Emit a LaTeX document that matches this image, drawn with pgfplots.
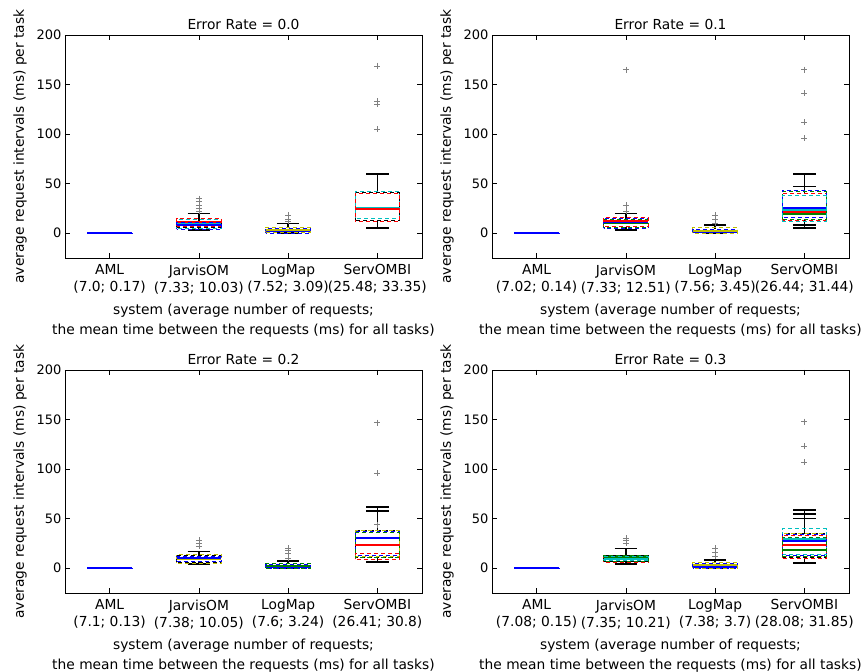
\documentclass[border=0pt]{standalone}
\usepackage{fontspec}
\setmainfont{DejaVu Sans}
\usepackage{pgfplots}
\pgfplotsset{compat=1.18}
\usepgfplotslibrary{statistics}
\definecolor{mb}{rgb}{0,0,1}
\definecolor{mg}{rgb}{0,0.5,0}
\definecolor{mr}{rgb}{1,0,0}
\definecolor{mc}{rgb}{0,0.75,0.75}
\definecolor{mm}{rgb}{0.75,0,0.75}
\definecolor{my}{rgb}{0.75,0.75,0}
\newcommand{\fsz}{\fontsize{13.8}{17}\selectfont}
\newcommand{\fszl}{\fontsize{13.8}{20}\selectfont}
\newcommand{\fszy}{\fontsize{13}{16}\selectfont}
% main box: color, pos, lw, lq, med, uq, uw
\newcommand{\mainbox}[7]{\addplot[#1, thick, dash pattern=on 4pt off 3pt, boxplot prepared={draw position=#2, lower whisker=#3, lower quartile=#4, median=#5, upper quartile=#6, upper whisker=#7, box extend=0.5, whisker extend=0.25, every whisker/.style={black,solid,line width=1.6pt}, every median/.style={#1,solid,line width=2pt}}] coordinates {};}
% coloured box without whiskers: color, pos, lq, med, uq
\newcommand{\colbox}[5]{\addplot[#1, thick, dash pattern=on 4pt off 3pt, dash phase=3pt, boxplot prepared={draw position=#2, lower whisker=#3, lower quartile=#3, median=#4, upper quartile=#5, upper whisker=#5, box extend=0.5, whisker extend=0.25, every whisker/.style={draw=none}, every median/.style={#1,solid,line width=2pt}}] coordinates {};}
\pgfplotsset{panel/.style={
  scale only axis, width=357pt, height=223pt, anchor=south west,
  xmin=0.5, xmax=4.5, ymin=-25, ymax=200,
  xtick={1,2,3,4}, ytick={0,50,100,150,200},
  tick align=inside, major tick length=5pt, tick style={black, thin},
  axis line style={black, line width=0.9pt},
  boxplot/draw direction=y,
  /pgf/number format/assume math mode=true,
  yticklabel style={font=\fszy},
  xticklabel style={font=\fsz, align=center, yshift=-3pt},
  ylabel style={font=\fsz, yshift=3pt},
  title style={font=\fsz, yshift=-4pt},
  xlabel style={font=\fszl, align=center, yshift=-3pt},
  ylabel={average request intervals (ms) per task},
  xlabel={system (average number of requests;\\ the mean time between the requests (ms) for all tasks)},
}}
\begin{document}
\begin{tikzpicture}
\path[use as bounding box] (0pt,0pt) rectangle (868pt,672pt);
% ---------- Error Rate 0.0
\begin{axis}[panel, at={(65pt,414pt)}, title={Error Rate = 0.0},
  xticklabels={{AML\\(7.0; 0.17)},{JarvisOM\\(7.33; 10.03)},{LogMap\\(7.52; 3.09)},{ServOMBI\\(25.48; 33.35)}}]
\colbox{my}{1}{0}{0.3}{0.6}
\mainbox{mb}{1}{0}{0}{0}{0.2}{0.5}
\mainbox{black}{2}{3}{6}{9}{12}{20}
\colbox{mc}{2}{5}{10}{14}
\colbox{mr}{2}{7}{11}{15}
\colbox{mb}{2}{4}{8}{11}
\addplot[only marks, mark=+, gray, mark size=3pt] coordinates {(2,22) (2,25) (2,28) (2,32) (2,35)};
\mainbox{mb}{3}{0}{0}{2}{5}{10}
\colbox{my}{3}{1}{3}{6}
\addplot[only marks, mark=+, gray, mark size=3pt] coordinates {(3,12) (3,14) (3,18)};
\mainbox{black}{4}{5}{13}{24}{41}{60}
\colbox{mc}{4}{15}{25}{42}
\colbox{mr}{4}{12}{24}{40}
\addplot[only marks, mark=+, gray, mark size=3pt] coordinates {(4,105) (4,130) (4,133) (4,169)};
\end{axis}
% ---------- Error Rate 0.1
\begin{axis}[panel, at={(492pt,414pt)}, title={Error Rate = 0.1},
  xticklabels={{AML\\(7.02; 0.14)},{JarvisOM\\(7.33; 12.51)},{LogMap\\(7.56; 3.45)},{ServOMBI\\(26.44; 31.44)}}]
\colbox{my}{1}{0}{0.4}{0.8}
\mainbox{mb}{1}{0}{0}{0}{0.2}{0.5}
\mainbox{mg}{2}{3}{6}{10}{14}{20}
\colbox{mb}{2}{5}{11}{15}
\colbox{mr}{2}{7}{12}{16}
\addplot[only marks, mark=+, gray, mark size=3pt] coordinates {(2,22) (2,28) (2,165)};
\mainbox{mb}{3}{0}{0}{1}{4}{8}
\colbox{my}{3}{0}{2}{6}
\addplot[only marks, mark=+, gray, mark size=3pt] coordinates {(3,10) (3,14) (3,18)};
\mainbox{mr}{4}{5}{13}{21}{40}{60}
\mainbox{mg}{4}{8}{14}{19}{42}{47}
\colbox{mb}{4}{16}{25}{43}
\colbox{mc}{4}{12}{23}{38}
\addplot[only marks, mark=+, gray, mark size=3pt] coordinates {(4,96) (4,112) (4,141) (4,165)};
\end{axis}
% ---------- Error Rate 0.2
\begin{axis}[panel, at={(65pt,79pt)}, title={Error Rate = 0.2},
  xticklabels={{AML\\(7.1; 0.13)},{JarvisOM\\(7.38; 10.05)},{LogMap\\(7.6; 3.24)},{ServOMBI\\(26.41; 30.8)}}]
\colbox{my}{1}{0}{0.4}{0.8}
\mainbox{mb}{1}{0}{0}{0}{0.2}{0.5}
\mainbox{black}{2}{4}{6}{10}{13}{17}
\colbox{my}{2}{5}{9}{14}
\colbox{mb}{2}{7}{10}{12}
\addplot[only marks, mark=+, gray, mark size=3pt] coordinates {(2,22) (2,25) (2,28)};
\mainbox{mb}{3}{0}{0}{1}{4}{7}
\colbox{mg}{3}{0}{2}{5}
\addplot[only marks, mark=+, gray, mark size=3pt] coordinates {(3,10) (3,15) (3,18) (3,20)};
\mainbox{black}{4}{6}{11}{30}{38}{58}
\mainbox{black}{4}{6}{11}{30}{38}{62}
\colbox{my}{4}{12}{30}{38}
\colbox{mb}{4}{13}{30}{37}
\colbox{mg}{4}{11}{23}{36}
\colbox{mr}{4}{9}{23}{15}
\addplot[only marks, mark=+, gray, mark size=3pt] coordinates {(4,44) (4,96) (4,147)};
\end{axis}
% ---------- Error Rate 0.3
\begin{axis}[panel, at={(492pt,79pt)}, title={Error Rate = 0.3},
  xticklabels={{AML\\(7.08; 0.15)},{JarvisOM\\(7.35; 10.21)},{LogMap\\(7.38; 3.7)},{ServOMBI\\(28.08; 31.85)}}]
\colbox{my}{1}{0}{0.4}{0.8}
\mainbox{mb}{1}{0}{0}{0}{0.2}{0.5}
\mainbox{black}{2}{4}{7}{10}{13}{20}
\colbox{mr}{2}{6}{10}{12}
\colbox{mg}{2}{7}{11}{13}
\colbox{mc}{2}{8}{9}{12}
\addplot[only marks, mark=+, gray, mark size=3pt] coordinates {(2,25) (2,28) (2,30)};
\mainbox{mb}{3}{0}{0}{1}{5}{8}
\colbox{my}{3}{0}{3}{6}
\addplot[only marks, mark=+, gray, mark size=3pt] coordinates {(3,12) (3,16) (3,20)};
\mainbox{black}{4}{5}{11}{29}{35}{50}
\mainbox{black}{4}{5}{11}{29}{35}{55}
\mainbox{black}{4}{5}{11}{29}{35}{59}
\colbox{my}{4}{12}{29}{35}
\colbox{mc}{4}{14}{29}{40}
\colbox{mb}{4}{13}{27}{34}
\colbox{mr}{4}{10}{23}{33}
\colbox{mg}{4}{12}{18}{31}
\addplot[only marks, mark=+, gray, mark size=3pt] coordinates {(4,107) (4,123) (4,148)};
\end{axis}
\end{tikzpicture}
\end{document}
